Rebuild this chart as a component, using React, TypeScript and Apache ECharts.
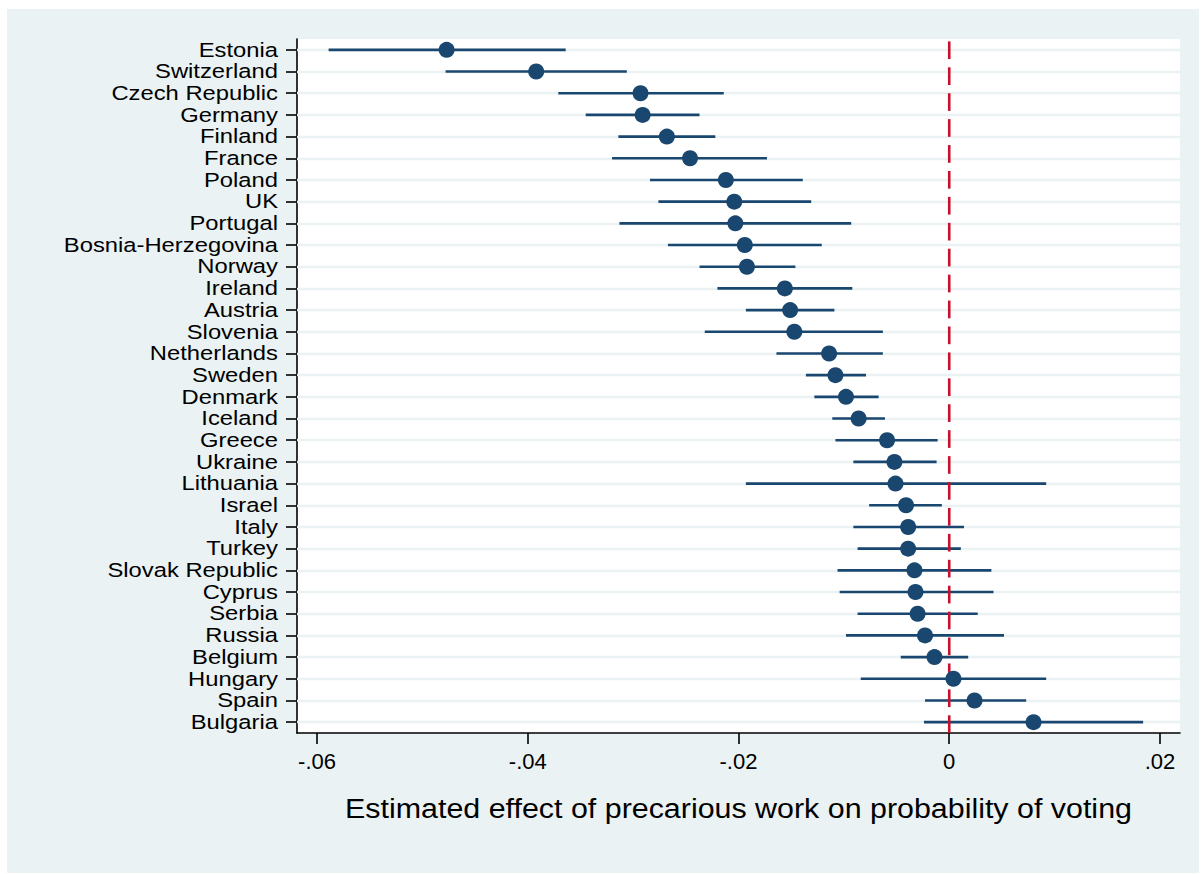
import React, { useEffect, useRef } from "react";
import * as echarts from "echarts";

// Countries, top to bottom
const countries = [
  "Estonia", "Switzerland", "Czech Republic", "Germany", "Finland", "France",
  "Poland", "UK", "Portugal", "Bosnia-Herzegovina", "Norway", "Ireland",
  "Austria", "Slovenia", "Netherlands", "Sweden", "Denmark", "Iceland",
  "Greece", "Ukraine", "Lithuania", "Israel", "Italy", "Turkey",
  "Slovak Republic", "Cyprus", "Serbia", "Russia", "Belgium", "Hungary",
  "Spain", "Bulgaria",
];

// Point estimates
const estimates = [
  -0.0477, -0.0392, -0.0293, -0.0291, -0.0268, -0.0246,
  -0.0212, -0.0204, -0.0203, -0.0194, -0.0192, -0.0156,
  -0.0151, -0.0147, -0.0114, -0.0108, -0.0098, -0.0086,
  -0.0059, -0.0052, -0.0051, -0.0041, -0.0039, -0.0039,
  -0.0033, -0.0032, -0.0030, -0.0023, -0.0014, 0.0004,
  0.0024, 0.0080,
];

// Lower confidence bounds
const ciLow = [
  -0.0589, -0.0478, -0.0371, -0.0345, -0.0314, -0.0320,
  -0.0284, -0.0276, -0.0313, -0.0267, -0.0237, -0.0220,
  -0.0193, -0.0232, -0.0164, -0.0136, -0.0128, -0.0111,
  -0.0108, -0.0091, -0.0193, -0.0076, -0.0091, -0.0087,
  -0.0106, -0.0104, -0.0087, -0.0098, -0.0046, -0.0084,
  -0.0023, -0.0024,
];

// Upper confidence bounds
const ciHigh = [
  -0.0364, -0.0306, -0.0214, -0.0237, -0.0222, -0.0173,
  -0.0139, -0.0131, -0.0093, -0.0121, -0.0146, -0.0092,
  -0.0109, -0.0063, -0.0063, -0.0079, -0.0067, -0.0061,
  -0.0011, -0.0012, 0.0092, -0.0007, 0.0014, 0.0011,
  0.0040, 0.0042, 0.0027, 0.0052, 0.0018, 0.0092,
  0.0073, 0.0184,
];

const xTicks = [-0.06, -0.04, -0.02, 0, 0.02];
const referenceValue = [0];
const xTitle = "Estimated effect of precarious work on probability of voting";

const NAVY = "#1a476f";
const BG = "#eaf2f3";
const RED = "#c8102e";
const FONT = "'Liberation Sans', Arial, Helvetica, sans-serif";

const GRID_LEFT = 290;
const GRID_TOP = 30;
const GRID_W = 883;
const GRID_H = 694;

// dash pattern of the zero line
const DASH_ON = 17.7;
const DASH_PERIOD = 25.92;

function formatTick(v: number): string {
  if (v === 0) return "0";
  return String(Number(v.toFixed(4))).replace("0.", ".");
}

export default function App() {
  const ref = useRef<HTMLDivElement>(null);

  useEffect(() => {
    document.body.style.margin = "0";
    const chart = echarts.init(ref.current as HTMLDivElement, null, { renderer: "svg" });

    const ciData = countries.map((c, i) => [ciLow[i], c, ciHigh[i]]);
    const pointData = countries.map((c, i) => [estimates[i], c]);
    const refData = referenceValue.map((v) => [v, countries[0]]);

    chart.setOption({
      animation: false,
      backgroundColor: BG,
      textStyle: { fontFamily: FONT },
      grid: {
        left: GRID_LEFT,
        top: GRID_TOP,
        width: GRID_W,
        height: GRID_H,
        show: true,
        backgroundColor: "#ffffff",
        borderWidth: 0,
        containLabel: false,
      },
      xAxis: {
        type: "value",
        min: -0.0619,
        max: 0.0219,
        axisLine: { show: true, onZero: false, lineStyle: { color: "#000", width: 1.6 } },
        axisTick: {
          show: true,
          length: 11,
          customValues: xTicks,
          lineStyle: { color: "#000", width: 1.6 },
        },
        axisLabel: {
          customValues: xTicks,
          formatter: (v: number) => formatTick(v),
          fontSize: 22,
          color: "#000",
          margin: 17,
          fontFamily: FONT,
        },
        splitLine: { show: false },
      },
      yAxis: {
        type: "category",
        inverse: true,
        data: countries,
        boundaryGap: true,
        axisLine: { show: true, onZero: false, lineStyle: { color: "#000", width: 1.6 } },
        axisTick: {
          show: true,
          alignWithLabel: true,
          length: 11,
          lineStyle: { color: "#000", width: 1.6 },
        },
        axisLabel: { show: false },
        splitLine: { show: false },
      },
      series: [
        {
          // light horizontal rules through each country row
          type: "scatter",
          silent: true,
          z: 1,
          symbolSize: 0,
          data: [],
          markLine: {
            silent: true,
            z: 1,
            symbol: ["none", "none"],
            label: { show: false },
            lineStyle: { color: BG, width: 2.3, type: "solid" },
            emphasis: { disabled: true },
            data: countries.map((c) => ({ yAxis: c })),
          },
        },
        {
          // confidence intervals
          type: "custom",
          silent: true,
          z: 2,
          data: ciData,
          encode: { x: 0, y: 1 },
          renderItem: (_params: any, api: any) => {
            const cat = api.value(1);
            const p1 = api.coord([api.value(0), cat]);
            const p2 = api.coord([api.value(2), cat]);
            return {
              type: "line",
              shape: { x1: p1[0], y1: p1[1], x2: p2[0], y2: p2[1] },
              style: { stroke: NAVY, lineWidth: 2.6 },
            };
          },
        },
        {
          // dashed reference line at zero effect, dashes laid from the bottom up
          type: "custom",
          silent: true,
          z: 5,
          data: refData,
          encode: { x: 0, y: 1 },
          renderItem: (params: any, api: any) => {
            const cs = params.coordSys;
            const x = api.coord([api.value(0), api.value(1)])[0];
            const top = cs.y;
            const children: any[] = [];
            for (let yb = cs.y + cs.height; yb > top; yb -= DASH_PERIOD) {
              const yt = Math.max(yb - DASH_ON, top);
              children.push({
                type: "line",
                shape: { x1: x, y1: yb, x2: x, y2: yt },
                style: { stroke: RED, lineWidth: 2.6 },
              });
            }
            return { type: "group", children };
          },
        },
        {
          // point estimates
          type: "scatter",
          silent: true,
          z: 10,
          symbol: "circle",
          symbolSize: 16,
          itemStyle: { color: NAVY, opacity: 1 },
          data: pointData,
        },
      ],
    });

    // Country labels, anchored on the category axis positions
    const labelX = GRID_LEFT - 19;
    const labels = countries.map((c) => {
      const y = chart.convertToPixel({ yAxisIndex: 0 }, c) as unknown as number;
      return {
        type: "text",
        x: labelX,
        y,
        scaleX: 1.22,
        silent: true,
        style: {
          text: c,
          fill: "#000",
          fontSize: 19.5,
          fontFamily: FONT,
          align: "right",
          verticalAlign: "middle",
        },
      };
    });

    chart.setOption({
      graphic: [
        ...labels,
        {
          type: "text",
          x: GRID_LEFT + GRID_W / 2,
          y: 799.5,
          scaleX: 1.126,
          silent: true,
          style: {
            text: xTitle,
            fill: "#000",
            fontSize: 27,
            fontFamily: FONT,
            align: "center",
            verticalAlign: "middle",
          },
        },
      ],
    });

    return () => chart.dispose();
  }, []);

  return (
    <div style={{ position: "relative", width: 1203, height: 874, background: "#ffffff" }}>
      <div
        ref={ref}
        style={{ position: "absolute", left: 7, top: 9, width: 1192, height: 864 }}
      />
    </div>
  );
}
